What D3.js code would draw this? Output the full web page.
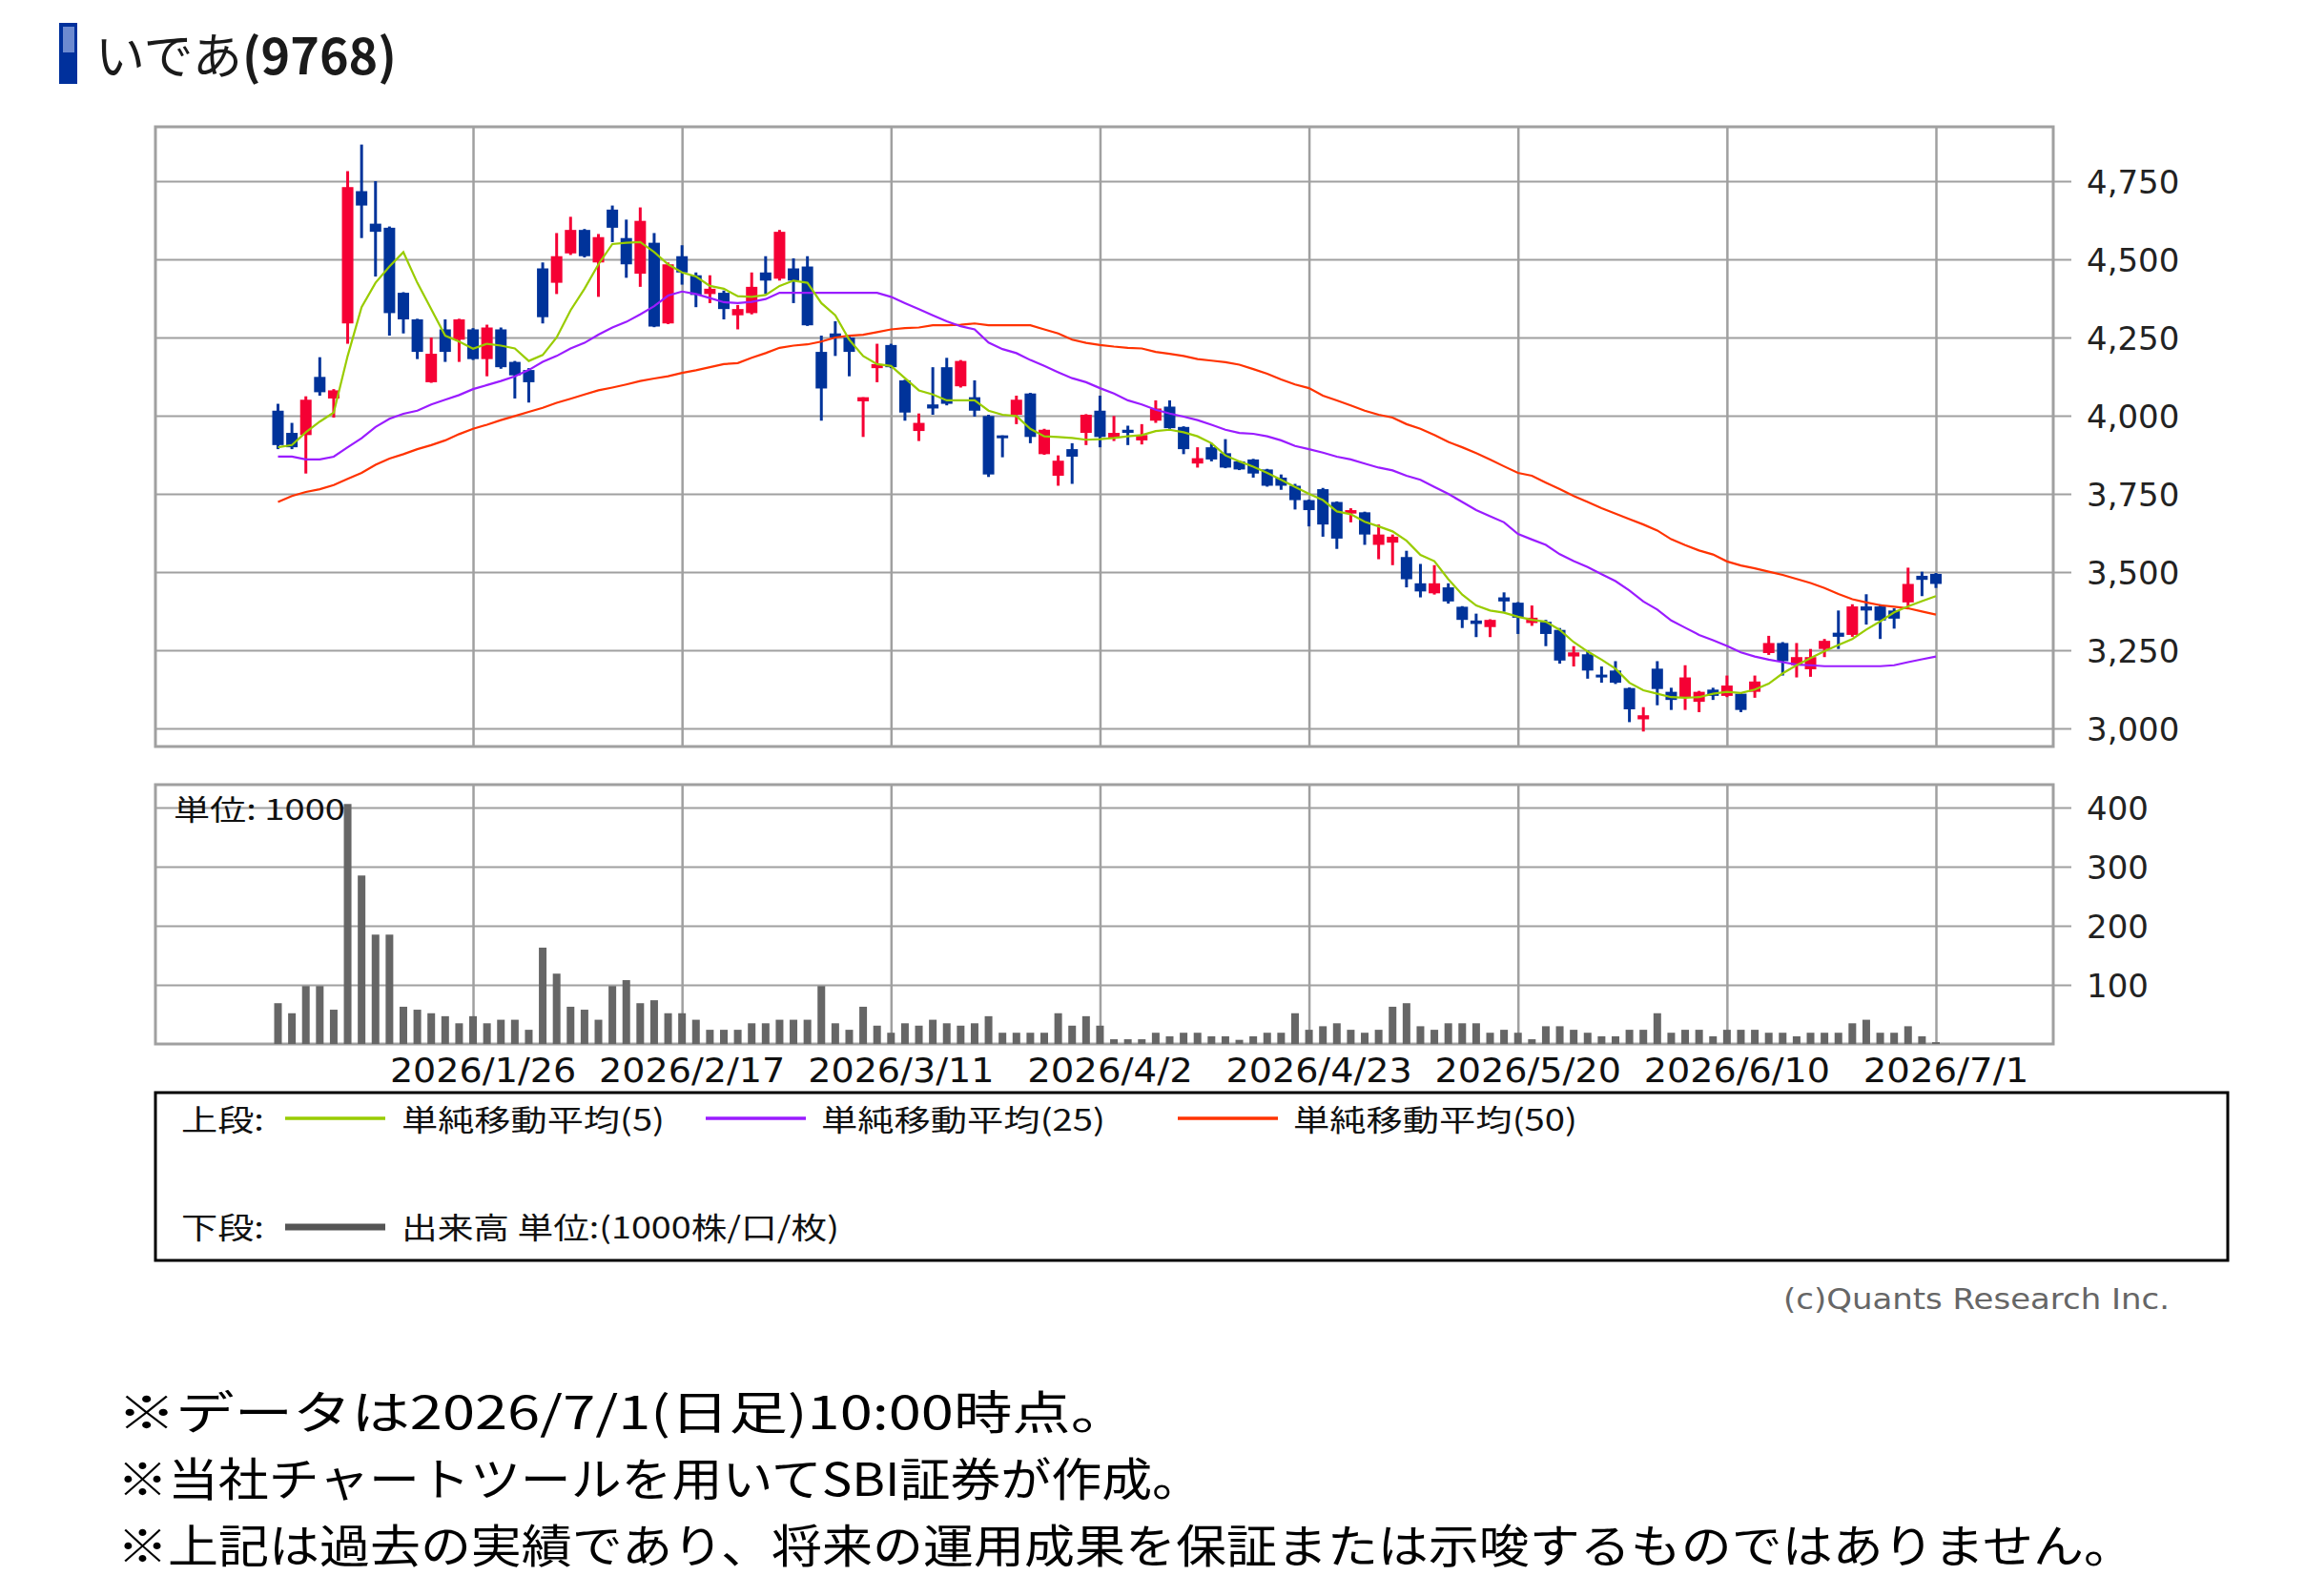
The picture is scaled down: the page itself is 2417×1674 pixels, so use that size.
<!DOCTYPE html>
<html><head><meta charset="utf-8">
<script src="https://cdn.jsdelivr.net/npm/d3@7"></script>
<style>html,body{margin:0;padding:0;background:#fff;}svg{display:block}</style>
</head><body>
<script>
// ---- data ----
const tickLabels = ["2026/1/26","2026/2/17","2026/3/11","2026/4/2","2026/4/23","2026/5/20","2026/6/10","2026/7/1"];
const tickIndex  = [14, 29, 44, 59, 74, 89, 104, 119];
const priceTicks = [3000, 3250, 3500, 3750, 4000, 4250, 4500, 4750];
const volumeTicks = [100, 200, 300, 400];

const open = [4016,3945,3938,4124,4055,4295,4718,4614,4601,4393,4308,4107,4276,4243,4276,4181,4276,4172,4146,4471,
4425,4519,4594,4490,4659,4568,4454,4553,4295,4510,4449,4389,4393,4321,4328,4458,4438,4471,4477,4204,
4263,4250,4046,4152,4226,4113,3951,4036,4155,4094,4059,3999,3937,4003,4071,3877,3808,3893,3945,4016,
3929,3955,3921,3984,4029,3964,3847,3899,3880,3854,3860,3828,3802,3776,3730,3765,3724,3687,3691,3587,
3594,3548,3464,3432,3451,3389,3345,3324,3419,3402,3337,3341,3315,3230,3237,3172,3185,3129,3029,3191,
3117,3098,3085,3124,3104,3111,3117,3241,3273,3202,3189,3254,3306,3299,3390,3390,3377,3403,3488,3494];
const high = [4038,3977,4062,4187,4085,4782,4867,4750,4605,4395,4310,4250,4308,4310,4280,4291,4282,4175,4152,4490,
4584,4636,4597,4581,4672,4627,4666,4584,4490,4545,4458,4449,4400,4354,4458,4510,4594,4503,4510,4256,
4302,4256,4059,4230,4230,4115,4007,4155,4185,4178,4113,4003,3937,4064,4073,3958,3873,3912,4005,4064,
3999,3968,3973,4049,4049,3966,3899,3912,3925,3856,3862,3830,3812,3782,3732,3769,3726,3704,3693,3652,
3620,3568,3526,3522,3464,3391,3367,3349,3435,3404,3393,3347,3321,3263,3250,3198,3215,3131,3068,3215,
3130,3202,3120,3130,3169,3113,3169,3296,3276,3273,3254,3286,3377,3397,3429,3397,3384,3514,3501,3497];
const low = [3893,3893,3815,4064,3994,4230,4568,4445,4256,4263,4181,4105,4172,4172,4178,4126,4150,4055,4042,4295,
4389,4514,4506,4380,4555,4441,4412,4283,4293,4419,4347,4360,4308,4276,4324,4389,4432,4360,4287,3984,
4191,4126,3932,4107,4152,3984,3919,4003,4033,4090,3997,3804,3867,3973,3912,3875,3776,3782,3906,3899,
3919,3906,3908,3977,3958,3877,3834,3854,3832,3826,3802,3773,3763,3700,3646,3613,3574,3659,3587,3541,
3522,3451,3419,3428,3399,3321,3292,3292,3373,3302,3328,3263,3207,3198,3159,3146,3142,3020,2990,3074,
3059,3059,3052,3091,3100,3052,3098,3235,3169,3163,3165,3228,3254,3293,3332,3286,3319,3390,3423,3449];
const close = [3906,3899,4051,4075,4081,4731,4672,4588,4328,4308,4204,4198,4204,4308,4181,4282,4155,4129,4107,4315,
4510,4594,4510,4571,4601,4484,4623,4285,4484,4458,4386,4406,4341,4341,4412,4432,4588,4432,4289,4087,
4250,4204,4059,4165,4155,4010,3977,4023,4038,4175,4016,3812,3932,4051,3932,3955,3856,3869,4003,3932,
3945,3945,3938,4023,3960,3893,3864,3860,3834,3828,3815,3776,3776,3730,3698,3652,3607,3698,3620,3620,
3613,3477,3438,3464,3406,3347,3334,3347,3406,3354,3354,3302,3217,3243,3185,3165,3146,3061,3042,3126,
3091,3163,3117,3104,3137,3059,3150,3273,3215,3228,3228,3280,3293,3390,3377,3345,3351,3462,3475,3462];
const volume = [69,52,98,98,58,406,285,185,185,63,58,52,47,35,47,35,41,41,24,163,
119,63,58,41,98,108,69,74,52,52,41,24,24,24,35,35,41,41,41,98,
35,24,63,31,19,35,31,41,35,31,35,47,19,19,19,19,52,31,47,31,
8,8,8,19,13,19,19,13,13,7,13,19,19,52,24,30,35,24,19,24,
63,69,30,24,35,35,35,19,24,19,8,30,30,24,19,13,13,24,24,52,
19,24,24,13,24,24,24,19,19,13,19,19,19,35,41,19,19,30,13,3];
const ma5 = [3899,3906,3947,3981,4010,4191,4347,4425,4477,4523,4425,4341,4256,4237,4214,4230,4224,4215,4175,4194,
4250,4337,4406,4484,4549,4553,4555,4523,4484,4458,4445,4415,4406,4382,4380,4386,4415,4432,4425,4360,
4321,4243,4191,4165,4159,4120,4081,4068,4049,4049,4049,4016,4003,3999,3958,3934,3932,3929,3923,3925,
3929,3934,3938,3951,3955,3947,3934,3912,3873,3854,3837,3817,3795,3772,3750,3730,3694,3685,3661,3646,
3630,3600,3555,3535,3477,3428,3393,3377,3370,3357,3347,3341,3315,3276,3246,3220,3191,3146,3122,3111,
3100,3098,3100,3111,3117,3113,3124,3143,3176,3202,3225,3247,3267,3286,3316,3342,3371,3390,3407,3423];
const ma25 = [3869,3869,3860,3860,3869,3899,3928,3964,3990,4006,4016,4036,4051,4066,4085,4098,4111,4126,4146,4172,
4191,4215,4233,4259,4282,4300,4324,4350,4384,4397,4389,4376,4363,4360,4364,4373,4393,4393,4393,4393,
4393,4393,4393,4393,4380,4360,4341,4321,4302,4286,4276,4234,4213,4200,4178,4159,4139,4120,4107,4088,
4071,4049,4036,4019,4007,3997,3986,3971,3955,3945,3942,3934,3921,3903,3893,3882,3869,3860,3847,3834,
3825,3808,3795,3772,3750,3724,3698,3678,3659,3622,3604,3587,3557,3535,3516,3493,3471,3441,3406,3380,
3345,3322,3299,3282,3264,3243,3230,3220,3212,3204,3202,3199,3199,3199,3199,3199,3202,3212,3221,3230];
const ma50 = [3724,3743,3756,3765,3778,3798,3817,3843,3863,3877,3893,3906,3921,3941,3958,3971,3986,3999,4012,4025,
4041,4054,4068,4081,4090,4100,4111,4119,4126,4137,4145,4155,4165,4168,4185,4200,4217,4224,4228,4237,
4250,4256,4259,4267,4276,4280,4282,4289,4289,4291,4295,4289,4289,4289,4289,4276,4263,4243,4233,4226,
4221,4217,4215,4204,4198,4191,4181,4176,4171,4163,4149,4134,4116,4100,4088,4064,4049,4033,4016,4003,
3994,3973,3958,3938,3916,3899,3880,3860,3838,3817,3808,3786,3765,3743,3724,3704,3687,3669,3652,3633,
3605,3586,3569,3556,3534,3521,3512,3501,3491,3478,3465,3449,3430,3413,3403,3394,3389,3384,3374,3364];

// ---- layout ----
const W = 2417, H = 1674;
const P = {left:163, right:2153, top:133, bottom:783};
const V = {left:163, right:2153, top:823, bottom:1095};
const GRID = "#a0a0a0", RED = "#f50034", BLUE = "#00339a";
const CJK = "'Noto Sans CJK JP', sans-serif";
const LAT = "'DejaVu Sans', Verdana, sans-serif";

const svg = d3.select("body").append("svg").attr("width", W).attr("height", H);

const x = d3.scaleLinear().domain([0, 119]).range([291.5, 2030]);
const y = d3.scaleLinear().domain([3000, 4750]).range([764, 190]);
const yv = d3.scaleLinear().domain([0, 400]).range([V.bottom, 847]);

// ---- title ----
svg.append("rect").attr("x",62).attr("y",24).attr("width",19).attr("height",64).attr("fill","#00309c");
svg.append("rect").attr("x",66).attr("y",28).attr("width",12).attr("height",27).attr("fill","#6d8ad0");
const title = svg.append("text").attr("x",100).attr("y",78).attr("font-family",CJK).attr("font-size",52).attr("fill","#1a1a1a");
title.append("tspan").attr("font-weight",400).text("いであ");
title.append("tspan").attr("font-weight",700).text("(9768)");

// ---- price panel grid ----
const gP = svg.append("g");
gP.append("g").attr("transform",`translate(${P.right},0)`)
  .call(d3.axisRight(y).tickValues(priceTicks).tickSize(-(P.right-P.left)).tickFormat(""))
  .call(g => { g.select(".domain").remove(); g.selectAll("line").attr("stroke",GRID).attr("stroke-width",2); });
gP.append("g").attr("transform",`translate(0,${P.bottom})`)
  .call(d3.axisBottom(x).tickValues(tickIndex).tickSize(-(P.bottom-P.top)).tickFormat(""))
  .call(g => { g.select(".domain").remove(); g.selectAll("line").attr("stroke",GRID).attr("stroke-width",2.5); });
gP.append("rect").attr("x",P.left).attr("y",P.top).attr("width",P.right-P.left).attr("height",P.bottom-P.top)
  .attr("fill","none").attr("stroke",GRID).attr("stroke-width",3);
gP.append("g").attr("transform",`translate(${P.right},0)`)
  .call(d3.axisRight(y).tickValues(priceTicks).tickSize(19).tickPadding(16).tickFormat(d3.format(",")))
  .call(g => {
    g.select(".domain").remove();
    g.selectAll("line").attr("stroke",GRID).attr("stroke-width",2);
    g.selectAll("text").attr("font-family",LAT).attr("font-size",34).attr("fill","#222").attr("dy","0.36em");
  });

// ---- candles ----
const idx = d3.range(close.length);
const gC = svg.append("g");
const cand = gC.selectAll("g").data(idx).join("g");
cand.append("line")
  .attr("x1", i => x(i)).attr("x2", i => x(i))
  .attr("y1", i => y(high[i])).attr("y2", i => y(low[i]))
  .attr("stroke", i => close[i] >= open[i] ? RED : BLUE).attr("stroke-width", 3);
cand.append("rect")
  .attr("x", i => x(i) - 6).attr("width", 12)
  .attr("y", i => Math.min(y(open[i]), y(close[i])))
  .attr("height", i => Math.max(3, Math.abs(y(open[i]) - y(close[i]))))
  .attr("fill", i => close[i] >= open[i] ? RED : BLUE);

// ---- moving averages ----
const line = d3.line().x((d,i) => x(i)).y(d => y(d));
[[ma50,"#ff3300"],[ma25,"#9a1cff"],[ma5,"#99cc00"]].forEach(([s,c]) => {
  svg.append("path").attr("d", line(s)).attr("fill","none").attr("stroke",c).attr("stroke-width",2.2);
});

// ---- volume panel ----
const gV = svg.append("g");
gV.append("g").attr("transform",`translate(${V.right},0)`)
  .call(d3.axisRight(yv).tickValues(volumeTicks).tickSize(-(V.right-V.left)).tickFormat(""))
  .call(g => { g.select(".domain").remove(); g.selectAll("line").attr("stroke",GRID).attr("stroke-width",2); });
gV.append("g").attr("transform",`translate(0,${V.bottom})`)
  .call(d3.axisBottom(x).tickValues(tickIndex).tickSize(-(V.bottom-V.top)).tickFormat(""))
  .call(g => { g.select(".domain").remove(); g.selectAll("line").attr("stroke",GRID).attr("stroke-width",2.5); });
gV.append("rect").attr("x",V.left).attr("y",V.top).attr("width",V.right-V.left).attr("height",V.bottom-V.top)
  .attr("fill","none").attr("stroke",GRID).attr("stroke-width",3);
gV.append("g").attr("transform",`translate(${V.right},0)`)
  .call(d3.axisRight(yv).tickValues(volumeTicks).tickSize(19).tickPadding(16).tickFormat(d3.format("d")))
  .call(g => {
    g.select(".domain").remove();
    g.selectAll("line").attr("stroke",GRID).attr("stroke-width",2);
    g.selectAll("text").attr("font-family",LAT).attr("font-size",34).attr("fill","#222").attr("dy","0.36em");
  });
gV.selectAll("rect.vol").data(idx).join("rect").attr("class","vol")
  .attr("x", i => x(i) - 4).attr("width", 8)
  .attr("y", i => yv(volume[i])).attr("height", i => V.bottom - yv(volume[i]))
  .attr("fill", "#666");
gV.append("text").attr("x",182).attr("y",860).attr("font-family",CJK).attr("font-size",30)
  .attr("fill","#111").attr("textLength",180).attr("lengthAdjust","spacingAndGlyphs").text("単位: 1000");

// date labels
svg.append("g").attr("transform",`translate(0,${V.bottom})`)
  .call(d3.axisBottom(x).tickValues(tickIndex).tickSize(0).tickFormat((d,i) => tickLabels[i]))
  .call(g => {
    g.select(".domain").remove();
    g.selectAll("text").attr("y",40).attr("dy",null).attr("dx",10)
      .attr("font-family",LAT).attr("font-size",36).attr("fill","#111")
      .attr("textLength", d => tickLabels[tickIndex.indexOf(d)].length * 21.7)
      .attr("lengthAdjust","spacingAndGlyphs");
  });

// ---- legend ----
const L = svg.append("g");
L.append("rect").attr("x",163).attr("y",1146).attr("width",2173).attr("height",176)
  .attr("fill","none").attr("stroke","#000").attr("stroke-width",3);
const lt = (tx, xx, yy, tl) => L.append("text").attr("x",xx).attr("y",yy).attr("font-family",CJK)
  .attr("font-size",31).attr("fill","#111").attr("textLength",tl).attr("lengthAdjust","spacingAndGlyphs").text(tx);
lt("上段:", 190, 1186, 87);
lt("下段:", 190, 1299, 87);
const legendItems = [["単純移動平均(5)","#99cc00",299,421,276],["単純移動平均(25)","#9a1cff",740,861,298],["単純移動平均(50)","#ff3300",1235,1356,298]];
legendItems.forEach(([t,c,lx,tx,tl]) => {
  L.append("line").attr("x1",lx).attr("x2",lx+105).attr("y1",1173).attr("y2",1173).attr("stroke",c).attr("stroke-width",3.5);
  lt(t, tx, 1186, tl);
});
L.append("line").attr("x1",299).attr("x2",404).attr("y1",1287).attr("y2",1287).attr("stroke","#555").attr("stroke-width",7);
lt("出来高 単位:(1000株/口/枚)", 421, 1299, 459);

// ---- credits & notes ----
svg.append("text").attr("x",2275).attr("y",1373).attr("text-anchor","end").attr("font-family",LAT)
  .attr("font-size",30).attr("fill","#666").attr("textLength",405).attr("lengthAdjust","spacingAndGlyphs")
  .text("(c)Quants Research Inc.");
const notes = [["※データは2026/7/1(日足)10:00時点。",1499,1061],["※当社チャートツールを用いてSBI証券が作成。",1569,1138],["※上記は過去の実績であり、将来の運用成果を保証または示唆するものではありません。",1639,2115]];
notes.forEach(([t,yy,tl]) => svg.append("text").attr("x",123).attr("y",yy).attr("font-family",CJK)
  .attr("font-size",48).attr("fill","#000").attr("textLength",tl).attr("lengthAdjust","spacingAndGlyphs").text(t));
</script>
</body></html>
